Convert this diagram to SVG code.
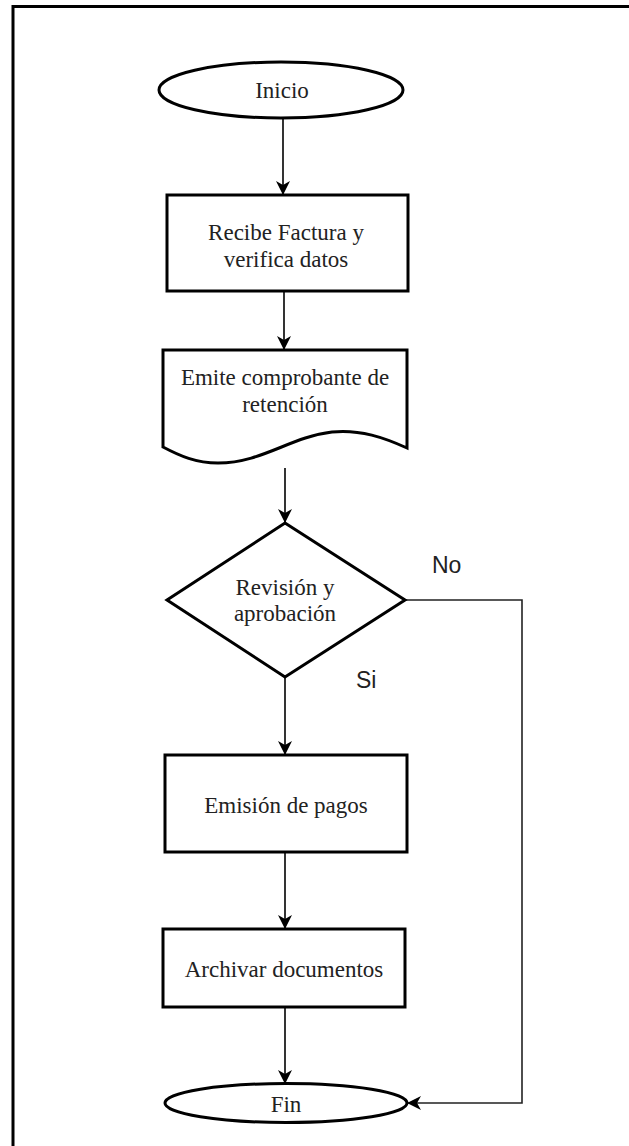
<svg xmlns="http://www.w3.org/2000/svg" width="629" height="1146" viewBox="0 0 629 1146">
<style>
.shape{fill:#fff;stroke:#000;stroke-width:3}
.conn{fill:none;stroke:#000;stroke-width:1.6}
.side{fill:none;stroke:#222;stroke-width:1.6}
.lbl{font-family:"Liberation Serif","Times New Roman",serif;font-size:23px;fill:#222;text-anchor:middle}
.edge{font-family:"Liberation Sans",Arial,sans-serif;font-size:23px;fill:#222}
</style>
<defs>
<marker id="arr" viewBox="0 0 14 14" refX="13" refY="7" markerWidth="14" markerHeight="14" markerUnits="userSpaceOnUse" orient="auto">
<path d="M0,0 L14,7 L0,14 L4,7 Z" fill="#000"/>
</marker>
</defs>
<rect width="629" height="1146" fill="#fff"/>
<path d="M13,1146 V6.5 H629" fill="none" stroke="#000" stroke-width="3"/>
<g id="connectors">
<line class="conn" x1="283" y1="118" x2="283" y2="194" marker-end="url(#arr)"/>
<line class="conn" x1="284" y1="292" x2="284" y2="349" marker-end="url(#arr)"/>
<line class="conn" x1="285" y1="468" x2="285" y2="522" marker-end="url(#arr)"/>
<line class="conn" x1="285" y1="677" x2="285" y2="754" marker-end="url(#arr)"/>
<line class="conn" x1="285" y1="852" x2="285" y2="928" marker-end="url(#arr)"/>
<line class="conn" x1="285" y1="1007" x2="285" y2="1083" marker-end="url(#arr)"/>
<polyline class="side" points="405,600 522,600 522,1103 408,1103" marker-end="url(#arr)"/>
<text class="edge" x="432" y="573">No</text>
<text class="edge" x="356" y="688">Si</text>
</g>
<g id="inicio">
<ellipse class="shape" cx="281" cy="90" rx="122" ry="28"/>
<text class="lbl" x="282" y="98">Inicio</text>
</g>
<g id="recibe">
<rect class="shape" x="167" y="195" width="241" height="96"/>
<text class="lbl" x="286" y="240">Recibe Factura y</text>
<text class="lbl" x="286" y="267">verifica datos</text>
</g>
<g id="emite">
<path class="shape" d="M163,350 L407,350 L407,448 C385,438 360,429 332,432 C290,437 262,463 218,463 C196,463 180,456 163,447 Z"/>
<text class="lbl" x="285" y="385">Emite comprobante de</text>
<text class="lbl" x="285" y="412">retención</text>
</g>
<g id="revision">
<polygon class="shape" points="285,523 405,600 285,677 167,600"/>
<text class="lbl" x="285" y="595">Revisión y</text>
<text class="lbl" x="285" y="621">aprobación</text>
</g>
<g id="emision">
<rect class="shape" x="165" y="755" width="242" height="97"/>
<text class="lbl" x="286" y="813">Emisión de pagos</text>
</g>
<g id="archivar">
<rect class="shape" x="163" y="929" width="242" height="78"/>
<text class="lbl" x="284" y="977">Archivar documentos</text>
</g>
<g id="fin">
<ellipse class="shape" cx="286" cy="1103" rx="121" ry="19.5"/>
<text class="lbl" x="286" y="1112">Fin</text>
</g>
</svg>
